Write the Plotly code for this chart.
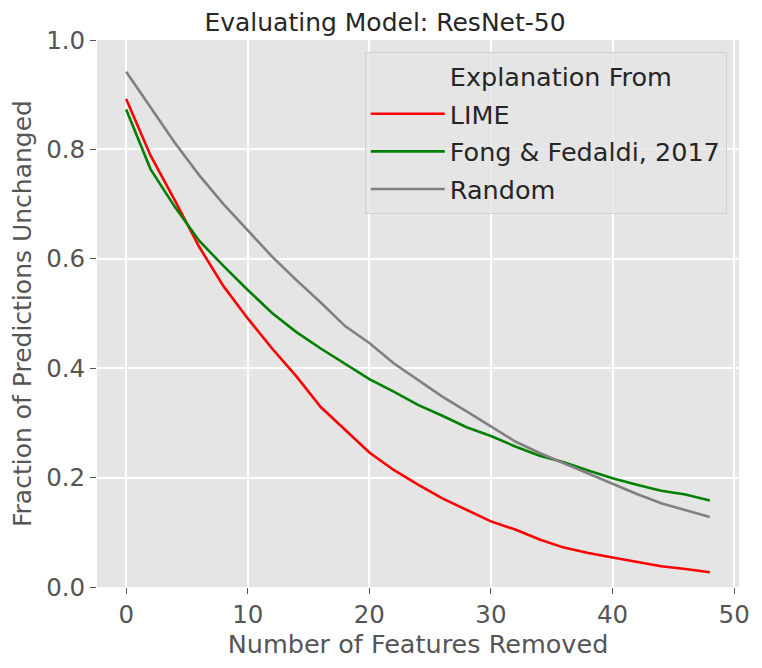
import plotly.graph_objects as go

# features removed (x) and fraction of predictions unchanged per explainer
features_removed = list(range(0, 50, 2))

lime = [0.892, 0.789, 0.707, 0.622, 0.550, 0.491, 0.436, 0.385, 0.329, 0.287,
        0.246, 0.214, 0.187, 0.162, 0.141, 0.120, 0.105, 0.087, 0.072, 0.062,
        0.054, 0.046, 0.038, 0.033, 0.027]
fong = [0.873, 0.764, 0.695, 0.633, 0.587, 0.543, 0.501, 0.466, 0.436, 0.408,
        0.380, 0.357, 0.333, 0.313, 0.292, 0.276, 0.257, 0.240, 0.228, 0.213,
        0.199, 0.187, 0.176, 0.169, 0.158]
random_ = [0.942, 0.876, 0.812, 0.753, 0.700, 0.652, 0.604, 0.561, 0.520, 0.477,
           0.446, 0.409, 0.379, 0.348, 0.321, 0.293, 0.266, 0.245, 0.226, 0.207,
           0.188, 0.170, 0.153, 0.141, 0.128]

series = [
    ("LIME", lime, "#ff0000"),
    ("Fong & Fedaldi, 2017", fong, "#008000"),
    ("Random", random_, "#808080"),
]

FONT = "DejaVu Sans"
TICK_GRAY = "#555555"

fig = go.Figure()

# blank entry so the legend title lines up with the labels (seaborn hue title)
fig.add_trace(go.Scatter(
    x=[None], y=[None], mode="lines", name="Explanation From",
    line={"color": "rgba(0,0,0,0)", "width": 2.5}, hoverinfo="skip",
    legendgroup="title",
))
for name, values, color in series:
    fig.add_trace(go.Scatter(
        x=features_removed, y=values, mode="lines", name=name,
        line={"color": color, "width": 2.6}, legendgroup=name,
    ))

# page body has an 8px margin, so the figure is a bit smaller than the window
fig.update_layout(
    width=754,
    height=660,
    paper_bgcolor="white",
    plot_bgcolor="#e5e5e5",
    margin={"l": 89, "r": 23, "t": 32, "b": 81},
    font={"family": FONT, "color": TICK_GRAY, "size": 25},
    title={
        "text": "Evaluating Model: ResNet-50",
        "font": {"family": FONT, "color": "#262626", "size": 25},
        "x": 0.5, "xanchor": "center",
        "yref": "paper", "y": 1, "yanchor": "bottom",
        "pad": {"b": 9},
    },
    xaxis={
        "range": [-2.4, 50.4],
        "tickvals": [0, 10, 20, 30, 40, 50],
        "showgrid": True, "gridcolor": "white", "gridwidth": 1.5,
        "zeroline": False,
        "ticks": "outside", "ticklen": 6, "tickwidth": 1, "tickcolor": TICK_GRAY,
        "tickfont": {"size": 24.5, "color": TICK_GRAY},
        "title": {"text": "Number of Features Removed",
                  "font": {"size": 25.5, "color": TICK_GRAY}, "standoff": 6},
    },
    yaxis={
        "range": [0, 1],
        "tickvals": [0, 0.2, 0.4, 0.6, 0.8, 1.0],
        "tickformat": ".1f",
        "showgrid": True, "gridcolor": "white", "gridwidth": 1.5,
        "zeroline": False,
        "ticks": "outside", "ticklen": 6, "tickwidth": 1, "tickcolor": TICK_GRAY,
        "tickfont": {"size": 24.5, "color": TICK_GRAY},
        "title": {"text": "Fraction of Predictions Unchanged",
                  "font": {"size": 25, "color": TICK_GRAY}, "standoff": 9},
    },
    legend={
        "x": 0.981, "xanchor": "right",
        "y": 0.978, "yanchor": "top",
        "bgcolor": "rgba(229,229,229,0.8)",
        "bordercolor": "#d0d0d0", "borderwidth": 1,
        "font": {"family": FONT, "size": 25.5, "color": "#262626"},
        "itemwidth": 74,
        "tracegroupgap": 1.5,
    },
    showlegend=True,
)

fig.write_html("out.html")
